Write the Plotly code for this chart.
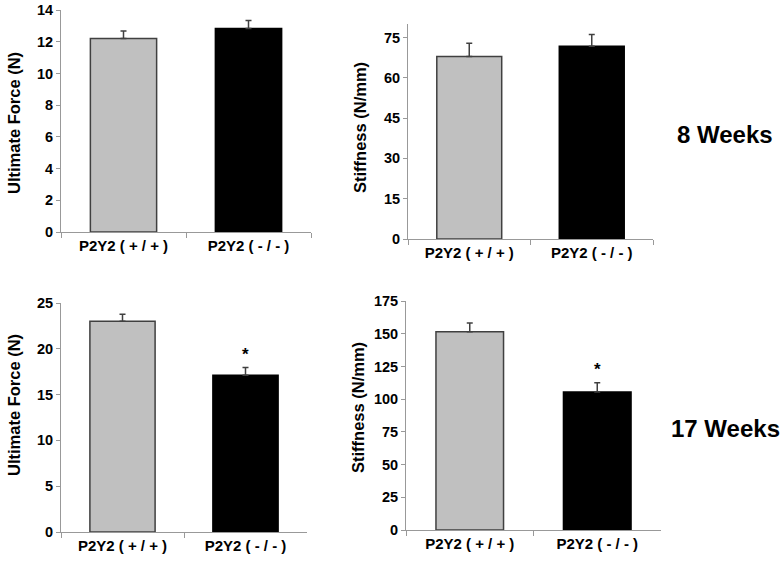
import plotly.graph_objects as go

groups = ["P2Y2 ( + / + )", "P2Y2 ( - / - )"]
bar_colors = ["#c0c0c0", "#000000"]

force_8 = [12.2, 12.84]
force_8_err = [0.48, 0.5]
stiff_8 = [67.9, 71.7]
stiff_8_err = [4.9, 4.4]

force_17 = [23.0, 17.1]
force_17_err = [0.77, 0.85]
stiff_17 = [151.5, 105.4]
stiff_17_err = [6.7, 7.1]

W, H = 782, 561
FONT = "Liberation Sans, Arial, sans-serif"

panels = [
    # values, errors, y range, tick step, x px span, y px span (top, bottom), star
    (force_8, force_8_err, [0, 14], 2, (61, 311), (10, 232), False),
    (stiff_8, stiff_8_err, [0, 80], 15, (408, 653), (24, 239), False),
    (force_17, force_17_err, [0, 25], 5, (61, 307), (303, 532), True),
    (stiff_17, stiff_17_err, [0, 175], 25, (406, 661), (301, 530), True),
]

fig = go.Figure()
layout = {}
for i, (vals, errs, yr, dtick, (x0, x1), (yt, yb), star) in enumerate(panels, start=1):
    xa = "x" if i == 1 else f"x{i}"
    ya = "y" if i == 1 else f"y{i}"
    fig.add_trace(go.Bar(
        x=groups, y=vals, xaxis=xa, yaxis=ya, width=0.53,
        marker=dict(color=bar_colors, line=dict(color=["#404040", "#000000"], width=1.5)),
        error_y=dict(type="data", symmetric=False, array=errs, arrayminus=[0, 0],
                     color="#404040", thickness=1.5, width=3),
        showlegend=False, hoverinfo="skip",
    ))
    layout["xaxis" if i == 1 else f"xaxis{i}"] = dict(
        domain=[x0 / W, x1 / W], anchor=ya, type="category", automargin=False,
        showline=True, linecolor="#999999", linewidth=1,
        ticks="outside", tickson="boundaries", ticklen=5, tickcolor="#999999",
        tickfont=dict(family=FONT, size=15, color="black", weight="bold"),
        showgrid=False, fixedrange=True,
    )
    layout["yaxis" if i == 1 else f"yaxis{i}"] = dict(
        domain=[1 - yb / H, 1 - yt / H], anchor=xa, range=yr, dtick=dtick, automargin=False,
        showline=True, linecolor="#999999", linewidth=1,
        ticks="outside", ticklen=4, tickcolor="#999999",
        tickfont=dict(family=FONT, size=14.5, color="black", weight="bold"),
        showgrid=False, zeroline=False, fixedrange=True,
    )
    if star:
        fig.add_annotation(x=groups[1], y=vals[1] + errs[1], xref=xa, yref=ya,
                           text="<b>*</b>", showarrow=False, yanchor="bottom", yshift=2,
                           font=dict(family=FONT, size=17, color="black"))

fig.update_layout(**layout)

titles = [
    ("Ultimate Force (N)", 14, 123),
    ("Stiffness (N/mm)", 360, 128),
    ("Ultimate Force (N)", 14, 405),
    ("Stiffness (N/mm)", 358, 408),
]
for txt, px_x, px_y in titles:
    fig.add_annotation(x=px_x / W, y=1 - px_y / H, xref="paper", yref="paper",
                       xanchor="center", yanchor="middle",
                       text=f"<b>{txt}</b>", textangle=-90, showarrow=False,
                       font=dict(family=FONT, size=16.5, color="black"))

for txt, px_x, px_y in [("8 Weeks", 725, 134), ("17 Weeks", 725, 428)]:
    fig.add_annotation(x=px_x / W, y=1 - px_y / H, xref="paper", yref="paper",
                       xanchor="center", yanchor="middle",
                       text=f"<b>{txt}</b>", showarrow=False,
                       font=dict(family=FONT, size=24, color="black"))

fig.update_layout(width=W, height=H, margin=dict(l=0, r=0, t=0, b=0),
                  paper_bgcolor="white", plot_bgcolor="white", bargap=0.47)

fig.write_html("out.html", config={"displayModeBar": False},
               post_script="document.body.style.margin='0';")
